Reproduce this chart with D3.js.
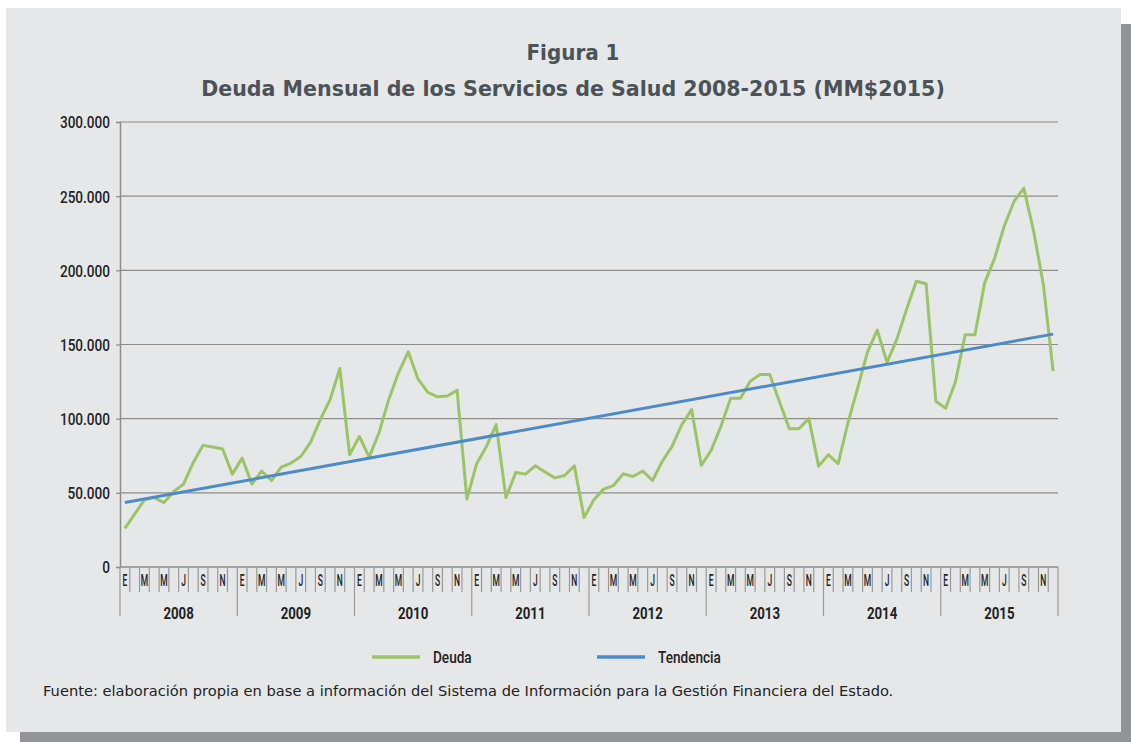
<!DOCTYPE html>
<html>
<head>
<meta charset="utf-8">
<script src="https://cdn.jsdelivr.net/npm/d3@7"></script>
<style>
  html, body { margin: 0; padding: 0; background: #fff; }
  svg { display: block; }
</style>
</head>
<body>
<div id="chart"></div>
<script>
// data (MM$2015), Jan 2008 .. Dec 2015
const years = [2008, 2009, 2010, 2011, 2012, 2013, 2014, 2015];
const monthLabels = ['E', '', 'M', '', 'M', '', 'J', '', 'S', '', 'N', ''];
const deuda = [
  26100, 35600, 45300, 46800, 43400, 50900, 55900, 70500, 82000, 80900, 79500, 62600,
  73400, 55900, 64700, 58300, 67400, 70100, 74500, 84000, 99300, 112800, 133800, 75700,
  88000, 74100, 90300, 112800, 130900, 145100, 126800, 117800, 114700, 115300, 119100, 45700,
  69600, 81300, 96000, 46800, 63700, 62600, 68200, 64000, 60100, 61700, 68200, 33300,
  45300, 52500, 54900, 62800, 61000, 64700, 58300, 71200, 81300, 96000, 106100, 68500,
  78600, 94800, 113700, 113700, 125200, 129700, 129700, 111300, 93200, 93200, 100200, 68000,
  75700, 69600, 97100, 120700, 144800, 159700, 138000, 153400, 173700, 192600, 191000, 111700,
  107000, 124800, 156600, 156600, 191700, 207900, 229900, 246400, 255400, 226600, 190500, 132000
];
const tendencia = [43500, 157000]; // first and last month of the trend line
const yTicks = [0, 50000, 100000, 150000, 200000, 250000, 300000];
const legendItems = ['Deuda', 'Tendencia'];

const W = 1132, H = 742;
const green = '#9bc467', blue = '#4c8bca';
const cond = 'Roboto, "DejaVu Sans", sans-serif';

const svg = d3.select('#chart').append('svg')
    .attr('width', W).attr('height', H);

// panel + drop shadow
svg.append('rect').attr('x', 20).attr('y', 24).attr('width', 1111).attr('height', 718).attr('fill', '#929497');
svg.append('rect').attr('x', 6).attr('y', 8).attr('width', 1115).attr('height', 724).attr('fill', '#e6e7e8');

// squeeze a text horizontally so it spans the reference width
const squeeze = (sel, cx, cy, target) => {
  const w = sel.node().getComputedTextLength();
  sel.attr('transform', `translate(${cx},${cy}) scale(${target / w},1)`);
};
svg.append('text')
    .attr('text-anchor', 'middle').attr('font-family', '"DejaVu Sans", sans-serif')
    .attr('font-weight', 'bold').attr('font-size', 21).attr('fill', '#4b5258')
    .text('Figura 1').call(squeeze, 573, 60, 93);
svg.append('text')
    .attr('text-anchor', 'middle').attr('font-family', '"DejaVu Sans", sans-serif')
    .attr('font-weight', 'bold').attr('font-size', 21).attr('fill', '#4b5258')
    .text('Deuda Mensual de los Servicios de Salud 2008-2015 (MM$2015)').call(squeeze, 573, 96, 744);

const plotL = 120, plotR = 1058, plotT = 122, plotB = 567;
const months = d3.range(deuda.length);

const x = d3.scaleBand().domain(months).range([plotL, plotR]).padding(0);
const cx = i => x(i) + x.bandwidth() / 2;
const y = d3.scaleLinear().domain([0, 300000]).range([plotB, plotT]);

// gridlines
svg.append('g').selectAll('line').data(yTicks.filter(d => d > 0)).join('line')
    .attr('x1', plotL).attr('x2', plotR)
    .attr('y1', d => y(d)).attr('y2', d => y(d))
    .attr('stroke', '#8c8c8c').attr('stroke-width', 1.2);

// y axis
const yAxis = svg.append('g').attr('transform', `translate(${plotL},0)`)
    .call(d3.axisLeft(y).tickValues(yTicks).tickSize(4).tickPadding(6)
      .tickFormat(d => d3.format(',')(d).replace(/,/g, '.')));
yAxis.select('.domain').attr('stroke', '#8c8c8c').attr('stroke-width', 1.5);
yAxis.selectAll('.tick line').attr('stroke', '#8c8c8c').attr('stroke-width', 1.2);
yAxis.selectAll('.tick text')
    .attr('font-family', cond).attr('font-weight', 500).attr('font-size', 17)
    .attr('fill', '#222').attr('dy', '0.35em')
    .each(function () {
      const t = d3.select(this);
      const xx = +t.attr('x');
      t.attr('x', 0).attr('transform', `translate(${xx},0) scale(0.8,1)`);
    });

// x axis: month ticks and labels
const xg = svg.append('g');
xg.append('line').attr('x1', plotL).attr('x2', plotR).attr('y1', plotB).attr('y2', plotB)
    .attr('stroke', '#8c8c8c').attr('stroke-width', 1.5);
xg.selectAll('line.mt').data(d3.range(deuda.length + 1)).join('line').attr('class', 'mt')
    .attr('x1', i => i < deuda.length ? x(i) : plotR).attr('x2', i => i < deuda.length ? x(i) : plotR)
    .attr('y1', plotB).attr('y2', i => i % 12 === 0 ? 616 : 592)
    .attr('stroke', '#9a9a9a').attr('stroke-width', 1.2);
xg.selectAll('text.ml').data(months.filter(i => monthLabels[i % 12])).join('text').attr('class', 'ml')
    .attr('transform', i => `translate(${cx(i)},586) scale(0.5,1)`)
    .attr('text-anchor', 'middle').attr('font-family', cond).attr('font-weight', 500)
    .attr('font-size', 17).attr('fill', '#222')
    .text(i => monthLabels[i % 12]);
xg.selectAll('text.yl').data(years).join('text').attr('class', 'yl')
    .attr('transform', (d, k) => `translate(${(x(k * 12) + x(k * 12 + 11) + x.bandwidth()) / 2},619) scale(0.78,1)`)
    .attr('text-anchor', 'middle').attr('font-family', cond).attr('font-weight', 'bold')
    .attr('font-size', 17).attr('fill', '#222')
    .text(d => d);

// series
svg.append('path').datum(deuda)
    .attr('d', d3.line().x((d, i) => cx(i)).y(d => y(d)))
    .attr('fill', 'none').attr('stroke', green).attr('stroke-width', 3)
    .attr('stroke-linejoin', 'round');
svg.append('path').datum(tendencia)
    .attr('d', d3.line().x((d, i) => cx(i * (deuda.length - 1))).y(d => y(d)))
    .attr('fill', 'none').attr('stroke', blue).attr('stroke-width', 3);

// legend
const leg = svg.append('g');
const legX = [372, 597];
const legColors = [green, blue];
legendItems.forEach((name, k) => {
  leg.append('line').attr('x1', legX[k]).attr('x2', legX[k] + 48).attr('y1', 657).attr('y2', 657)
      .attr('stroke', legColors[k]).attr('stroke-width', 3.5);
  leg.append('text').attr('transform', `translate(${legX[k] + 61},663) scale(0.8,1)`)
      .attr('font-family', cond).attr('font-weight', 500).attr('font-size', 17).attr('fill', '#222')
      .text(name);
});

// source note
svg.append('text')
    .attr('font-family', '"DejaVu Sans", sans-serif').attr('font-size', 14).attr('fill', '#222')
    .text('Fuente: elaboración propia en base a información del Sistema de Información para la Gestión Financiera del Estado.')
    .call(function (sel) {
      const w = sel.node().getComputedTextLength();
      sel.attr('transform', `translate(43,696) scale(${851 / w},1)`);
    });
</script>
</body>
</html>
